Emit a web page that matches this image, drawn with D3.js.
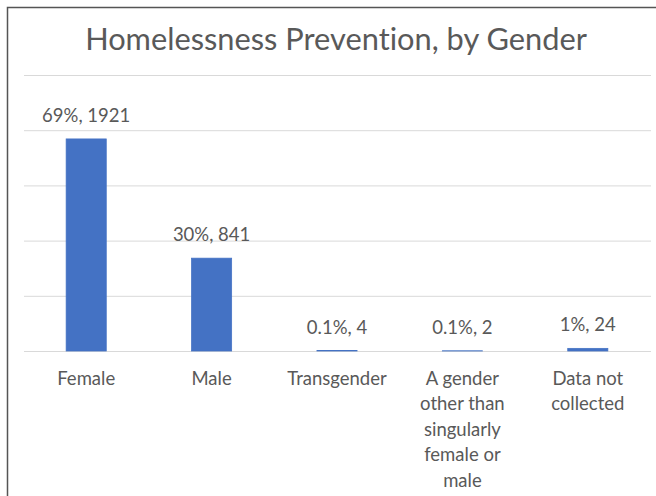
<!DOCTYPE html>
<html>
<head>
<meta charset="utf-8">
<script src="https://cdn.jsdelivr.net/npm/d3@7/dist/d3.min.js"></script>
<style>
  html, body { margin: 0; padding: 0; background: #fff; }
  svg { display: block; }
  text { font-variant-ligatures: none; }
</style>
</head>
<body>
<svg id="chart" width="656" height="496"></svg>
<script>
// Homelessness prevention clients, by reported gender
const categories = ["Female", "Male", "Transgender",
  "A gender other than singularly female or male", "Data not collected"];
const counts = [1921, 841, 4, 2, 24];
const shares = ["69%", "30%", "0.1%", "0.1%", "1%"];
const yTicks = [0, 500, 1000, 1500, 2000, 2500];
const title = "Homelessness Prevention, by Gender";

const W = 656, H = 496;
const FONT = "Lato, 'Open Sans', sans-serif";
const TEXT = "#595959";
const svg = d3.select("#chart");

// Chart frame (top and left edges visible in the crop)
svg.append("path")
  .attr("d", `M7.5,${H} V7.5 H${W}`)
  .attr("fill", "none")
  .attr("stroke", "#555")
  .attr("stroke-width", 1.5);

const x = d3.scaleBand().domain(categories).range([23.5, 650.5]).paddingInner(0.68).paddingOuter(0.34);
const y = d3.scaleLinear().domain([0, 2500]).range([351, 75]);

// Title, scaled to its measured width
const t = svg.append("text")
  .attr("x", 336).attr("y", 49.5)
  .attr("text-anchor", "middle")
  .attr("font-family", FONT)
  .attr("font-size", 28)
  .attr("fill", TEXT)
  .text(title);
const tw = t.node().getComputedTextLength();
t.attr("font-size", 28 * 502 / tw);

// Horizontal gridlines
const grid = d3.axisLeft(y).tickValues(yTicks).tickSize(-(651 - 24)).tickFormat("");
const gg = svg.append("g").attr("transform", "translate(24,0)").call(grid);
gg.select(".domain").remove();
gg.selectAll(".tick line").attr("stroke", "#d9d9d9").attr("stroke-width", 1);

// Bars
svg.append("g").selectAll("rect")
  .data(counts)
  .join("rect")
  .attr("x", (d, i) => x(categories[i]))
  .attr("width", x.bandwidth())
  .attr("y", d => y(d))
  .attr("height", d => y(0) - y(d))
  .attr("fill", "#4472c4")
  .attr("stroke", "#4472c4")
  .attr("stroke-width", 0.75);

// Value labels
svg.append("g").selectAll("text")
  .data(counts)
  .join("text")
  .attr("x", (d, i) => x(categories[i]) + x.bandwidth() / 2)
  .attr("y", d => y(d) - 17)
  .attr("text-anchor", "middle")
  .attr("font-family", FONT)
  .attr("font-size", 18.5)
  .attr("fill", TEXT)
  .text((d, i) => `${shares[i]}, ${d}`);

// Category labels, word-wrapped to the slot width
const xg = svg.append("g");
const maxW = 114, lineH = 25.4;
categories.forEach(c => {
  const cx = x(c) + x.bandwidth() / 2;
  const txt = xg.append("text")
    .attr("text-anchor", "middle")
    .attr("font-family", FONT)
    .attr("font-size", 18.5)
    .attr("fill", TEXT);
  const words = c.split(" ");
  let line = [], lines = [];
  const probe = txt.append("tspan");
  words.forEach(w => {
    const test = line.concat(w).join(" ");
    probe.text(test);
    if (probe.node().getComputedTextLength() > maxW && line.length) {
      lines.push(line.join(" "));
      line = [w];
    } else {
      line.push(w);
    }
  });
  lines.push(line.join(" "));
  probe.remove();
  lines.forEach((l, i) => {
    txt.append("tspan")
      .attr("x", cx)
      .attr("y", 385 + i * lineH)
      .text(l);
  });
});
</script>
</body>
</html>
